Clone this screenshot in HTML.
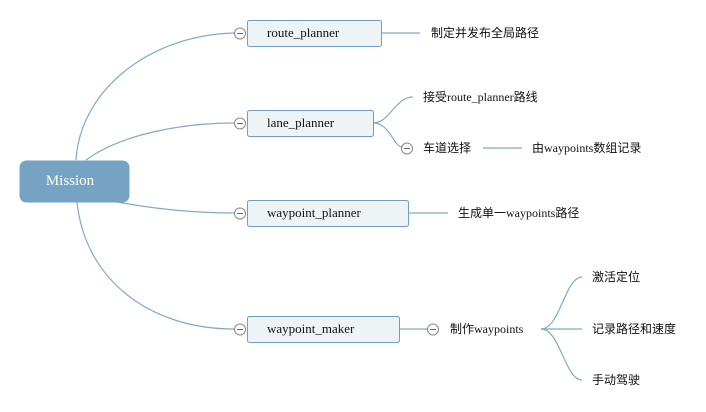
<!DOCTYPE html>
<html><head><meta charset="utf-8"><style>
html,body{margin:0;padding:0;background:#fff;width:706px;height:412px;overflow:hidden}
svg{display:block}
.n{font-family:"Liberation Serif","Noto Serif CJK SC",serif;font-size:13px;fill:#111}
.t{font-family:"Liberation Serif","Noto Sans CJK SC",sans-serif;font-size:12px;fill:#111}
</style></head><body>
<svg width="706" height="412" viewBox="0 0 706 412">
<g fill="none" stroke="#80a9c9" stroke-width="1.2">
<path d="M76,160 C80,90 150,35 234,33"/>
<path d="M86,160 C120,135 180,123 234,123"/>
<path d="M117,202 C150,208 190,213 234,213"/>
<path d="M77,202 C85,280 150,329 234,329"/>
<path d="M381,33 H420"/>
<path d="M373,123 C390,123 395,97 413,97"/>
<path d="M373,123 C390,123 393,146 402,147"/>
<path d="M483,148 H522"/>
<path d="M408,213 H448"/>
<path d="M399,329 H427"/>
<path d="M541,329 C560,329 565,277 582,277"/>
<path d="M541,329 H582"/>
<path d="M541,329 C560,329 565,380 582,380"/>
</g>
<rect x="19.5" y="160.5" width="110" height="42" rx="7" fill="#76a3c3"/>
<text x="70" y="185" text-anchor="middle" font-family="Liberation Serif,serif" font-size="15" fill="#fff">Mission</text>
<g fill="#eef3f6" stroke="#6f9fc4">
<rect x="247.5" y="20.5" width="134" height="26" rx="2"/>
<rect x="247.5" y="110.5" width="126" height="26" rx="2"/>
<rect x="247.5" y="200.5" width="161" height="26" rx="2"/>
<rect x="247.5" y="316.5" width="152" height="26" rx="2"/>
</g>
<text class="n" x="267" y="37">route_planner</text>
<text class="n" x="267" y="127">lane_planner</text>
<text class="n" x="267" y="217">waypoint_planner</text>
<text class="n" x="267" y="333">waypoint_maker</text>
<g fill="#fff" stroke="#888" stroke-width="1">
<circle cx="240" cy="33.5" r="5.5"/><circle cx="240" cy="123.5" r="5.5"/>
<circle cx="240" cy="213.5" r="5.5"/><circle cx="240" cy="329.5" r="5.5"/>
<circle cx="407" cy="148.5" r="5.5"/><circle cx="433" cy="329.5" r="5.5"/>
</g>
<g stroke="#666" stroke-width="1">
<path d="M237,33.5H243M237,123.5H243M237,213.5H243M237,329.5H243M404,148.5H410M430,329.5H436"/>
</g>
<text class="t" x="431" y="37">制定并发布全局路径</text>
<text class="t" x="423" y="101">接受route_planner路线</text>
<text class="t" x="423" y="152">车道选择</text>
<text class="t" x="532" y="152">由waypoints数组记录</text>
<text class="t" x="458" y="217">生成单一waypoints路径</text>
<text class="t" x="450" y="333">制作waypoints</text>
<text class="t" x="592" y="281">激活定位</text>
<text class="t" x="592" y="333">记录路径和速度</text>
<text class="t" x="592" y="384">手动驾驶</text>
</svg>
</body></html>
